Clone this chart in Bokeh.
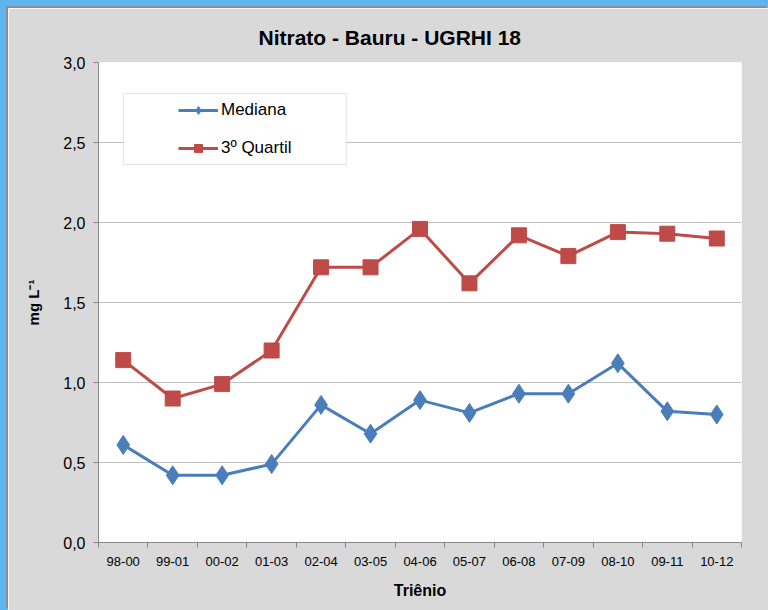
from bokeh.plotting import figure
from bokeh.embed import file_html
from bokeh.resources import INLINE
from bokeh.models import (FixedTicker, CustomJSTickFormatter, Range1d, Legend, LegendItem,
                          BoxAnnotation, ColumnDataSource)

# ---- data ----
categories = ["98-00", "99-01", "00-02", "01-03", "02-04", "03-05", "04-06",
              "05-07", "06-08", "07-09", "08-10", "09-11", "10-12"]
mediana = [0.61, 0.42, 0.42, 0.49, 0.86, 0.68, 0.89, 0.81, 0.93, 0.93, 1.12, 0.82, 0.80]
quartil3 = [1.14, 0.90, 0.99, 1.20, 1.72, 1.72, 1.96, 1.62, 1.92, 1.79, 1.94, 1.93, 1.90]
y_ticks = [0.0, 0.5, 1.0, 1.5, 2.0, 2.5, 3.0]

n = len(categories)
xs = [i + 0.5 for i in range(n)]
src = ColumnDataSource(dict(x=xs, med=mediana, q3=quartil3, cat=categories))

BLUE = "#4A7EBB"
RED = "#BE4B48"
BG = "#D9D9D9"
FONT = "Liberation Sans"

p = figure(width=760, height=602, output_backend="svg", toolbar_location=None,
           x_range=Range1d(0, n), y_range=Range1d(0, 3),
           min_border_left=90, min_border_right=27, min_border_top=54, min_border_bottom=68,
           title="Nitrato - Bauru - UGRHI 18")
p.styles = {"margin-left": "8px", "margin-top": "8px",
            "box-shadow": "-2px -2px 0 0 #8C8C8C, 0 0 0 8px #5DB4EE"}

p.background_fill_color = "white"
p.border_fill_color = BG
p.outline_line_color = None

p.title.align = "left"
p.title.offset = 160
p.title.text_font = FONT
p.title.text_font_size = "21px"
p.title.text_font_style = "bold"
p.title.text_color = "#000000"
p.title.standoff = 28

# x axis
p.xaxis.ticker = FixedTicker(ticks=xs, minor_ticks=list(range(n + 1)))
p.xaxis.formatter = CustomJSTickFormatter(args=dict(cats=categories),
                                          code="return cats[Math.floor(tick)];")
p.xaxis.major_tick_line_color = None
p.xaxis.minor_tick_line_color = "#868686"
p.xaxis.minor_tick_out = 5
p.xaxis.minor_tick_in = 0
p.xaxis.axis_line_color = "#868686"
p.xaxis.major_label_text_font = FONT
p.xaxis.major_label_text_font_size = "13px"
p.xaxis.major_label_text_color = "#000000"
p.xaxis.major_label_standoff = 8
p.xaxis.axis_label = "Triênio"
p.xaxis.axis_label_text_font = FONT
p.xaxis.axis_label_text_font_size = "16px"
p.xaxis.axis_label_text_font_style = "bold"
p.xaxis.axis_label_text_color = "#000000"
p.xaxis.axis_label_standoff = 13

# y axis
p.yaxis.ticker = FixedTicker(ticks=y_ticks)
p.yaxis.formatter = CustomJSTickFormatter(code="return tick.toFixed(1).replace('.', ',');")
p.yaxis.major_tick_line_color = "#868686"
p.yaxis.major_tick_out = 5
p.yaxis.major_tick_in = 0
p.yaxis.minor_tick_line_color = None
p.yaxis.axis_line_color = "#868686"
p.yaxis.major_label_text_font = FONT
p.yaxis.major_label_text_font_size = "16px"
p.yaxis.major_label_text_color = "#000000"
p.yaxis.major_label_standoff = 8
p.yaxis.axis_label = "mg L⁻¹"
p.yaxis.axis_label_text_font = FONT
p.yaxis.axis_label_text_font_size = "15px"
p.yaxis.axis_label_text_font_style = "bold"
p.yaxis.axis_label_text_color = "#000000"
p.yaxis.axis_label_standoff = 18

p.xgrid.grid_line_color = None
p.ygrid.grid_line_color = "#C0C0C0"
p.ygrid.grid_line_width = 1

# series
l1 = p.line("x", "med", source=src, line_color=BLUE, line_width=3)
m1 = p.scatter("x", "med", source=src, marker="diamond", size=19, fill_color=BLUE,
               line_color=BLUE)
l2 = p.line("x", "q3", source=src, line_color=RED, line_width=3)
m2 = p.scatter("x", "q3", source=src, marker="square", size=15, fill_color=RED,
               line_color=RED)

# legend box
box = BoxAnnotation(left=0.505, right=5.01, bottom=2.3625, top=2.806,
                    fill_color="white", fill_alpha=1.0, line_color="#A6A6A6", line_width=1)
p.add_layout(box)

legend = Legend(items=[LegendItem(label="Mediana", renderers=[l1, m1]),
                       LegendItem(label="3º Quartil", renderers=[l2, m2])],
                location=(80, 384), padding=0, margin=0, spacing=18,
                glyph_width=40, glyph_height=20, label_standoff=3,
                background_fill_alpha=0, border_line_color=None,
                label_text_font=FONT, label_text_font_size="17px", label_text_color="#000000")
p.add_layout(legend)

open("out.html", "w").write(file_html(p, INLINE))
